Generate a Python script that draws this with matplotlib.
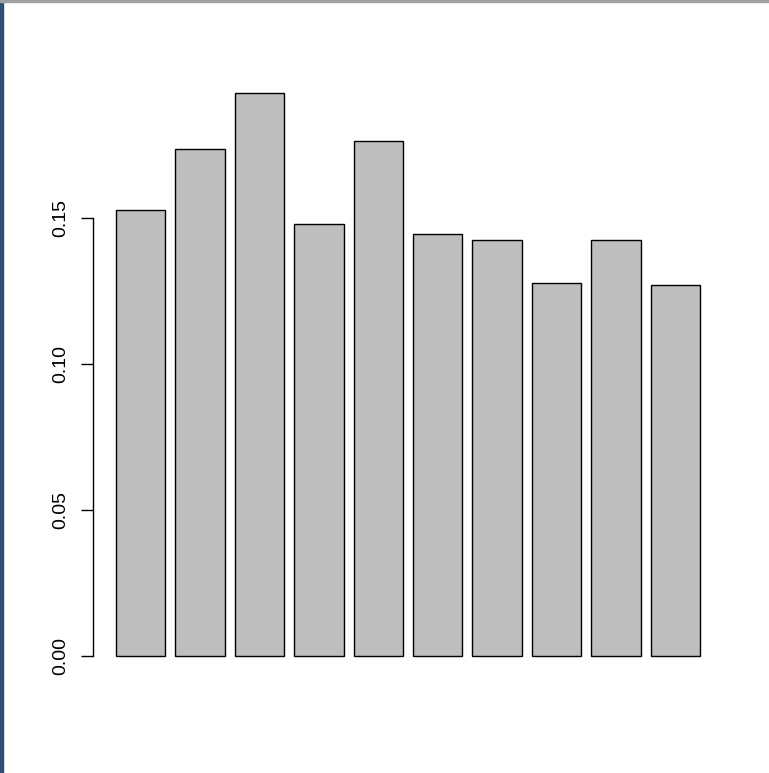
import matplotlib
matplotlib.use("Agg")
import matplotlib.pyplot as plt
from matplotlib.patches import Rectangle

# bar heights (R barplot style)
heights = [0.1527, 0.1736, 0.1928, 0.1479, 0.1764, 0.1445, 0.1425, 0.1277, 0.1425, 0.1271]
yticks = [0.00, 0.05, 0.10, 0.15]
ytick_labels = ["0.00", "0.05", "0.10", "0.15"]

W, H = 769, 773
fig = plt.figure(figsize=(W / 100, H / 100), dpi=100)

# R: width 1, space 0.2 -> left edges 0.2, 1.4, ...
lefts = [0.2 + 1.2 * i for i in range(len(heights))]
xlo, xhi = 0.2, lefts[-1] + 1
xpad = 0.04 * (xhi - xlo)
ylo, yhi = 0, max(heights)
ypad = 0.04 * (yhi - ylo)

ax = fig.add_axes([92.6 / W, (H - 678.5) / H, (723.4 - 92.6) / W, (678.5 - 70.5) / H])
ax.bar(lefts, heights, width=1, align="edge", color="#bebebe", edgecolor="black", linewidth=1)
ax.set_xlim(xlo - xpad, xhi + xpad)
ax.set_ylim(ylo - ypad, yhi + ypad)

for s in ["top", "right", "bottom"]:
    ax.spines[s].set_visible(False)
ax.spines["left"].set_bounds(yticks[0], yticks[-1])
ax.spines["left"].set_linewidth(1)
ax.set_xticks([])
ax.set_yticks(yticks)
ax.set_yticklabels(ytick_labels, rotation=90, va="center", family="Liberation Sans", fontsize=14)
ax.tick_params(axis="y", length=9, width=1, pad=8)

# screenshot window edges
fig.patches.append(Rectangle((0, 0), 3 / W, 1, transform=fig.transFigure, color="#2f4f78", zorder=10))
fig.patches.append(Rectangle((0, 1 - 2 / H), 1, 2 / H, transform=fig.transFigure, color="#a0a0a0", zorder=10))

fig.savefig("out.png", dpi=100)
